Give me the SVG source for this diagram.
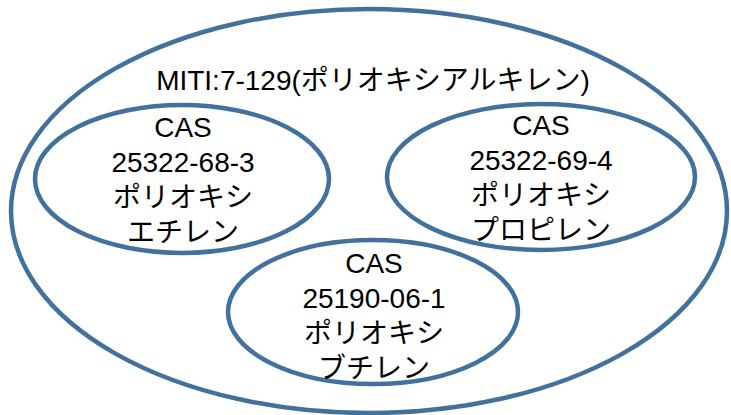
<svg xmlns="http://www.w3.org/2000/svg" width="731" height="415" viewBox="0 0 731 415">
<style>
.el{fill:none;stroke:#41719C;stroke-width:4.5}
.t{font-family:"Liberation Sans","Noto Sans CJK JP",sans-serif;font-size:28px;fill:#000;text-anchor:middle}
</style>
<rect width="731" height="415" fill="#fff"/>
<g id="outer">
<ellipse class="el" cx="369" cy="211" rx="358" ry="202"/>
<text class="t" x="373" y="90">MITI:7-129(ポリオキシアルキレン)</text>
</g>
<g id="pe">
<ellipse class="el" cx="182" cy="179" rx="147" ry="74"/>
<text class="t" x="183" y="137">CAS</text>
<text class="t" x="183" y="172">25322-68-3</text>
<text class="t" x="183" y="207">ポリオキシ</text>
<text class="t" x="183" y="242">エチレン</text>
</g>
<g id="pp">
<ellipse class="el" cx="541" cy="177" rx="154" ry="73"/>
<text class="t" x="541" y="135">CAS</text>
<text class="t" x="541" y="170">25322-69-4</text>
<text class="t" x="541" y="205">ポリオキシ</text>
<text class="t" x="541" y="240">プロピレン</text>
</g>
<g id="pb">
<ellipse class="el" cx="373" cy="312" rx="145" ry="72"/>
<text class="t" x="374" y="273">CAS</text>
<text class="t" x="374" y="308">25190-06-1</text>
<text class="t" x="374" y="343">ポリオキシ</text>
<text class="t" x="374" y="378">ブチレン</text>
</g>
<g id="connectors"/>
</svg>
